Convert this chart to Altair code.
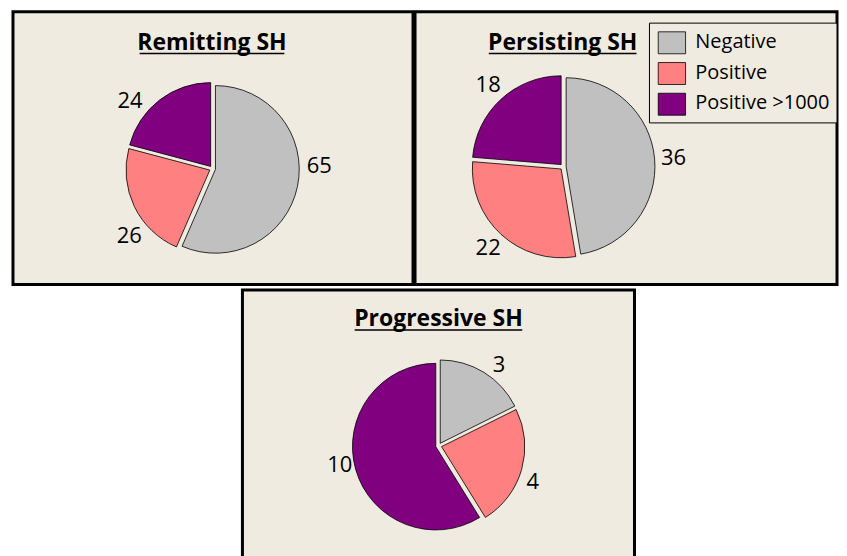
import altair as alt
import pandas as pd

# ---- data ----
categories = ["Negative", "Positive", "Positive >1000"]
remitting_counts = [65, 26, 24]
persisting_counts = [36, 22, 18]
progressive_counts = [3, 4, 10]
panel_titles = ["Remitting SH", "Persisting SH", "Progressive SH"]
slice_colors = ["#C0C0C0", "#FF8080", "#800080"]

FONT = "Open Sans"
BG = "#F0EBE1"
EXPLODE = 3
COLOR = alt.Color("category:N", scale=alt.Scale(domain=categories, range=slice_colors), legend=None)


def pie_panel(title, counts, width, height, cx, cy, r, label_r, label_rot, title_x, title_y, underline_half, legend=False):
    df = pd.DataFrame({"category": categories, "value": counts, "order": list(range(len(categories)))})
    base = (
        alt.Chart(df)
        .transform_joinaggregate(total="sum(value)")
        .transform_window(cum="sum(value)", sort=[alt.SortField("order", order="ascending")], frame=[None, 0])
        .transform_calculate(t0="2*PI*(datum.cum - datum.value)/datum.total")
        .transform_calculate(t1="2*PI*datum.cum/datum.total")
        .transform_calculate(mid="(datum.t0 + datum.t1)/2")
        .transform_calculate(la=f"datum.mid + {label_rot}*PI/180")
        .transform_calculate(px=f"{cx} + {EXPLODE}*sin(datum.mid)")
        .transform_calculate(py=f"{cy} - {EXPLODE}*cos(datum.mid)")
        .transform_calculate(lx=f"{cx} + {label_r}*sin(datum.la)")
        .transform_calculate(ly=f"{cy} - {label_r}*cos(datum.la)")
    )
    arcs = base.mark_arc(radius=r, stroke="black", strokeWidth=0.8).encode(
        theta=alt.Theta("t0:Q", scale=None),
        theta2=alt.Theta2("t1"),
        x=alt.X("px:Q", scale=None, axis=None),
        y=alt.Y("py:Q", scale=None, axis=None),
        color=COLOR,
    )
    labels = base.mark_text(font=FONT, fontSize=22, color="black").encode(
        x=alt.X("lx:Q", scale=None, axis=None),
        y=alt.Y("ly:Q", scale=None, axis=None),
        text="value:Q",
    )
    tdf = pd.DataFrame({"title": [title]})
    title_text = alt.Chart(tdf).mark_text(
        font=FONT, fontSize=23, fontWeight="bold", baseline="alphabetic", align="center", color="black"
    ).encode(x=alt.value(title_x), y=alt.value(title_y), text="title:N")
    underline = alt.Chart(tdf).mark_rule(strokeWidth=1.5, color="black").encode(
        x=alt.value(title_x - underline_half),
        x2=alt.value(title_x + underline_half),
        y=alt.value(title_y + 3.5),
    )
    layers = [arcs, labels, title_text, underline]
    if legend:
        ldf = pd.DataFrame({"category": categories, "idx": list(range(len(categories)))})
        lbase = (
            alt.Chart(ldf)
            .transform_calculate(sy="20.2 + datum.idx*30.8")
            .transform_calculate(sy2="datum.sy + 22")
            .transform_calculate(ty="datum.sy + 10")
        )
        box = alt.Chart(tdf).mark_rect(fill=BG, stroke="black", strokeWidth=1).encode(
            x=alt.value(235), x2=alt.value(width), y=alt.value(11.5), y2=alt.value(111.5)
        )
        swatches = lbase.mark_rect(stroke="black", strokeWidth=0.8).encode(
            x=alt.value(243.8),
            x2=alt.value(271.2),
            y=alt.Y("sy:Q", scale=None, axis=None),
            y2=alt.Y2("sy2"),
            color=COLOR,
        )
        ltext = lbase.mark_text(font=FONT, fontSize=20, align="left", baseline="middle", color="black").encode(
            x=alt.value(281),
            y=alt.Y("ty:Q", scale=None, axis=None),
            text="category:N",
        )
        layers += [box, swatches, ltext]
    return alt.layer(*layers).properties(
        width=width,
        height=height,
        view=alt.ViewBackground(fill=BG, stroke="black", strokeWidth=3),
    )


p1 = pie_panel(panel_titles[0], remitting_counts, 401, 273.5, 200, 157.5, 84, 107, -13, 199.5, 38.5, 72.5)
p2 = pie_panel(panel_titles[1], persisting_counts, 423, 273.5, 148.5, 155.5, 89, 111, 0, 148, 38.5, 74, legend=True)
p3 = pie_panel(panel_titles[2], progressive_counts, 393, 275, 196.7, 156.2, 83.5, 101, 5, 196.5, 36.5, 84)

spacer = (
    alt.Chart(pd.DataFrame({"k": [0]}))
    .mark_rule(strokeWidth=0)
    .encode(x=alt.value(0), x2=alt.value(0), y=alt.value(0))
    .properties(width=227.3, height=1, view=alt.ViewBackground(fill="transparent", stroke="transparent", strokeWidth=0))
)

top = alt.hconcat(p1, p2, spacing=-2)
bottom = alt.hconcat(spacer, p3, spacing=0)
chart = alt.vconcat(top, bottom, spacing=2).properties(
    padding={"left": 3, "top": 1, "right": 0, "bottom": 0},
    background="white",
)

chart.save("out.html", embed_options={"renderer": "svg", "actions": False})
